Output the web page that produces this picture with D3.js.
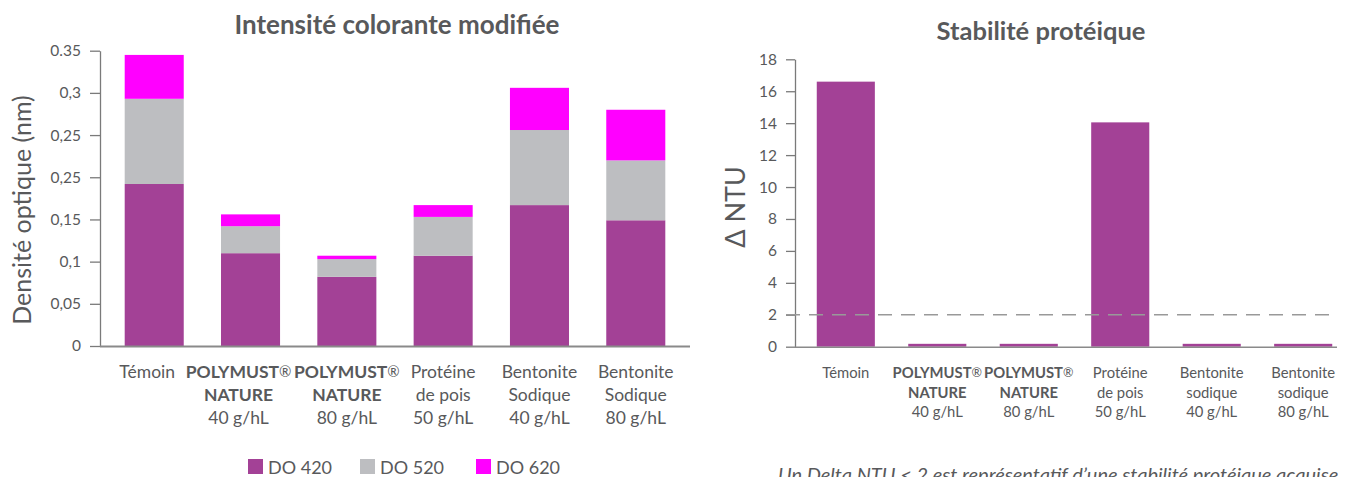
<!DOCTYPE html>
<html><head><meta charset="utf-8">
<script src="https://cdn.jsdelivr.net/npm/d3@7"></script>
<style>
body{margin:0;background:#fff}
svg{display:block}
text{font-family:Lato,'Open Sans',sans-serif;fill:#58595b}
</style>
</head><body>
<svg id="c" width="1351" height="477"></svg>
<script>
// ---- data ----
const categoriesLeft = [
  ["Témoin"],
  ["POLYMUST®","NATURE","40 g/hL"],
  ["POLYMUST®","NATURE","80 g/hL"],
  ["Protéine","de pois","50 g/hL"],
  ["Bentonite","Sodique","40 g/hL"],
  ["Bentonite","Sodique","80 g/hL"]
];
const categoriesRight = [
  ["Témoin"],
  ["POLYMUST®","NATURE","40 g/hL"],
  ["POLYMUST®","NATURE","80 g/hL"],
  ["Protéine","de pois","50 g/hL"],
  ["Bentonite","sodique","40 g/hL"],
  ["Bentonite","sodique","80 g/hL"]
];
const seriesNames = ["DO 420","DO 520","DO 620"];
const do420 = [0.192,0.110,0.082,0.107,0.167,0.149];
const do520 = [0.101,0.032,0.021,0.046,0.089,0.071];
const do620 = [0.052,0.014,0.004,0.014,0.050,0.060];
const yTickValuesLeft = [0,0.05,0.1,0.15,0.2,0.25,0.3,0.35];
const yTickLabelsLeft = ["0","0,05","0,1","0,15","0,25","0,25","0,3","0.35"];
const deltaNTU = [16.6,0.18,0.18,14.05,0.18,0.18];
const yTickValuesRight = [0,2,4,6,8,10,12,14,16,18];
const threshold = 2;
const titleLeft = "Intensité colorante modifiée";
const titleRight = "Stabilité protéique";
const yLabelLeft = "Densité optique (nm)";
const yLabelRight = "Δ NTU";
const note = "Un Delta NTU < 2 est représentatif d’une stabilité protéique acquise";

// ---- styles ----
const PURPLE="#a34196", GRAY="#bdbec1", MAGENTA="#ff00ff", AXIS="#7a7a7a", TXT="#58595b";
const colors=[PURPLE,GRAY,MAGENTA];
const svg=d3.select("#c");

function isBold(s){return /POLYMUST|NATURE/.test(s);}
function writeLine(t,s){
  if(s.includes("®")){
    const parts=s.split("®");
    t.append("tspan").attr("font-weight",700).text(parts[0]);
    t.append("tspan").attr("font-weight",400).attr("font-size","0.85em").attr("dy","-1").text("®");
  } else {
    t.attr("font-weight",isBold(s)?700:400).text(s);
  }
}

// ================= LEFT CHART =================
{
  const cats=categoriesLeft.map((d,i)=>"c"+i);
  const x=d3.scaleBand().domain(cats).range([106.4,683.6]).paddingInner(0.387).paddingOuter(0.19);
  const y=d3.scaleLinear().domain([0,0.35]).range([346,50.7]);
  const rows=cats.map((c,i)=>({c,s0:do420[i],s1:do520[i],s2:do620[i]}));
  const stack=d3.stack().keys(["s0","s1","s2"])(rows);
  const g=svg.append("g");
  g.selectAll("g.layer").data(stack).join("g").attr("fill",(d,i)=>colors[i])
    .selectAll("rect").data(d=>d).join("rect")
    .attr("x",d=>x(d.data.c)).attr("width",x.bandwidth())
    .attr("y",d=>y(d[1])).attr("height",d=>y(d[0])-y(d[1]));
  const ya=g.append("g").attr("transform","translate(100,0)")
    .call(d3.axisLeft(y).tickValues(yTickValuesLeft).tickFormat((d,i)=>yTickLabelsLeft[i]).tickSize(10).tickSizeOuter(0).tickPadding(9));
  ya.selectAll("path,line").attr("stroke",AXIS).attr("stroke-width",1.3);
  ya.selectAll("text").attr("font-size",15.5).attr("fill",TXT).style("font-family","Lato,'Open Sans',sans-serif");
  g.append("line").attr("x1",100).attr("x2",690).attr("y1",y(0)+0.5).attr("y2",y(0)+0.5).attr("stroke","#8a8a8a").attr("stroke-width",2);
  const shift=[-7,-12,0,0,0,0];
  categoriesLeft.forEach((lines,i)=>{
    lines.forEach((s,j)=>{
      const t=g.append("text").attr("x",x(cats[i])+x.bandwidth()/2+shift[i]).attr("y",378+j*23)
        .attr("text-anchor","middle").attr("font-size",17.5);
      writeLine(t,s);
    });
  });
  g.append("text").attr("x",397).attr("y",34).attr("text-anchor","middle").attr("font-size",26).attr("font-weight",700).text(titleLeft);
  g.append("text").attr("transform","translate(31,210) rotate(-90)").attr("text-anchor","middle").attr("font-size",25).text(yLabelLeft);
  const legX=[248,360,476];
  seriesNames.forEach((n,i)=>{
    g.append("rect").attr("x",legX[i]).attr("y",459).attr("width",15).attr("height",15).attr("fill",colors[i]);
    g.append("text").attr("x",legX[i]+20).attr("y",474).attr("font-size",18).text(n);
  });
}

// ================= RIGHT CHART =================
{
  const cats=categoriesRight.map((d,i)=>"r"+i);
  const x=d3.scaleBand().domain(cats).range([800.3,1348.7]).paddingInner(0.365).paddingOuter(0.18);
  const y=d3.scaleLinear().domain([0,18]).range([346.7,59.3]);
  const g=svg.append("g");
  g.selectAll("rect").data(deltaNTU).join("rect").attr("fill",PURPLE)
    .attr("x",(d,i)=>x(cats[i])).attr("width",x.bandwidth())
    .attr("y",d=>y(d)).attr("height",d=>y(0)-y(d));
  const ya=g.append("g").attr("transform","translate(795,0)")
    .call(d3.axisLeft(y).tickValues(yTickValuesRight).tickFormat(d3.format("d")).tickSize(9).tickSizeOuter(0).tickPadding(9));
  ya.selectAll("path,line").attr("stroke",AXIS).attr("stroke-width",1.3);
  ya.selectAll("text").attr("font-size",15.5).attr("fill",TXT).style("font-family","Lato,'Open Sans',sans-serif");
  g.append("line").attr("x1",795).attr("x2",1337).attr("y1",y(0)+0.5).attr("y2",y(0)+0.5).attr("stroke","#8a8a8a").attr("stroke-width",1.5);
  g.append("line").attr("x1",786).attr("x2",1337).attr("y1",y(threshold)).attr("y2",y(threshold))
    .attr("stroke","#999").attr("stroke-width",1.5).attr("stroke-dasharray","14,9");
  categoriesRight.forEach((lines,i)=>{
    lines.forEach((s,j)=>{
      const t=g.append("text").attr("x",x(cats[i])+x.bandwidth()/2).attr("y",378+j*19.5)
        .attr("text-anchor","middle").attr("font-size",14.8);
      writeLine(t,s);
    });
  });
  g.append("text").attr("x",1041).attr("y",40).attr("text-anchor","middle").attr("font-size",25.5).attr("font-weight",700).text(titleRight);
  g.append("text").attr("transform","translate(745,207) rotate(-90)").attr("text-anchor","middle").attr("font-size",27).text(yLabelRight);
  g.append("text").attr("x",778).attr("y",482).attr("font-size",20).attr("font-style","italic").text(note);
}
</script>
</body></html>
